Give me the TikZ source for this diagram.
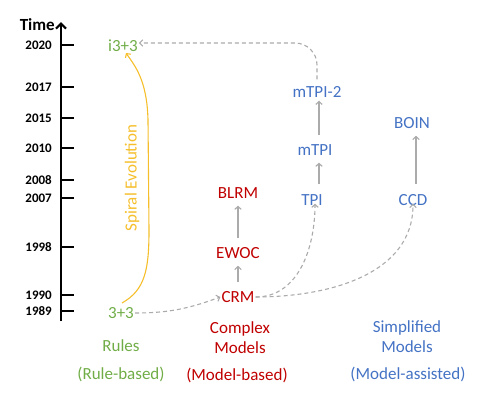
\documentclass[tikz,border=0pt]{standalone}
\usepackage{fontspec}
\setmainfont{Carlito}
\usetikzlibrary{arrows.meta}
\definecolor{cgreen}{HTML}{70AD47}
\definecolor{cred}{HTML}{C00000}
\definecolor{cblue}{HTML}{4472C4}
\definecolor{cgold}{HTML}{F5BE2A}
\definecolor{cgray}{HTML}{ABABAB}
\begin{document}
\begin{tikzpicture}[x=1pt,y=-1pt,
  lab/.style={font=\fontsize{17}{20}\selectfont, inner sep=1pt, align=center},
  year/.style={font=\fontsize{13}{15}\selectfont\bfseries, anchor=east, inner sep=0pt},
  tip/.style={-{Straight Barb[length=3pt,width=6.5pt]}},
  solidarr/.style={draw=cgray, line width=1.1pt, tip, shorten <=8pt, shorten >=6pt},
  dasharr/.style={draw=cgray, line width=1.1pt, tip, dash pattern=on 4pt off 3pt},
  ticks/.style={line width=1.8pt}]
\useasboundingbox (0,0) rectangle (504,407);
% axis
\coordinate (axbot) at (61,321);
\coordinate (axtop) at (61,22);
\draw[line width=2.2pt, -{Straight Barb[length=5pt,width=10pt]}] (axbot) -- (axtop);
\node[font=\fontsize{17}{20}\selectfont\bfseries, anchor=east, inner sep=0pt] (time) at (55,25) {Time};
\foreach \y/\t in {45/2020,87/2017,118/2015,148/2010,180/2008,198/2007,247/1998,295/1990,311/1989} {
  \coordinate (tk\t) at (61,\y);
  \draw[ticks] (tk\t) -- ++(13,0);
  \node[year] (yr\t) at (52,\y) {\t};
}
% rule-based
\node[lab, text=cgreen] (i33) at (123,46) {i3+3};
\node[lab, text=cgreen] (t33) at (121,313) {3+3};
\node[lab, text=cgreen] (rules) at (121,346) {Rules};
\node[lab, text=cgreen] (rulesb) at (121,374) {(Rule-based)};
\node[lab, text=cgold, rotate=90] (spiral) at (132,178) {Spiral Evolution};
\coordinate (ys) at (122,303);
\coordinate (ye) at (126,53);
\draw[cgold, line width=1.1pt, tip] (ys) .. controls (145,290) and (149,270) .. (149,230)
  -- (148,120) .. controls (147,80) and (135,66) .. (ye);
% model-based
\node[lab, text=cred] (crm) at (238,297) {CRM};
\node[lab, text=cred] (ewoc) at (238,253) {EWOC};
\node[lab, text=cred] (blrm) at (238,193) {BLRM};
\node[lab, text=cred] (complex) at (240,338) {Complex\\Models};
\node[lab, text=cred] (modelb) at (237,375) {(Model-based)};
% model-assisted
\node[lab, text=cblue] (tpi) at (312,200) {TPI};
\node[lab, text=cblue] (mtpi) at (315,150) {mTPI};
\node[lab, text=cblue] (mtpi2) at (317,92) {mTPI-2};
\node[lab, text=cblue] (ccd) at (413,200) {CCD};
\node[lab, text=cblue] (boin) at (412,123) {BOIN};
\node[lab, text=cblue] (simpl) at (407,337) {Simplified\\Models};
\node[lab, text=cblue] (modela) at (408,374) {(Model-assisted)};
% solid arrows
\draw[solidarr] (crm.north) -- (crm.north |- ewoc.south);
\draw[solidarr] (ewoc.north) -- (ewoc.north |- blrm.south);
\coordinate (tpix) at (319,0);
\draw[solidarr, shorten <=9pt] (tpix |- tpi.north) -- (tpix |- mtpi.south);
\draw[solidarr, shorten >=2pt] (tpix |- mtpi.north) -- (tpix |- mtpi2.south);
\coordinate (ccdx) at (416,0);
\draw[solidarr, shorten <=9pt] (ccdx |- ccd.north) -- (ccdx |- boin.south);
% dashed arrows
\draw[dasharr] (t33.east) to[out=0, in=200] (crm.west);
\draw[dasharr, rounded corners=22pt, shorten <=6pt] (mtpi2.north) |- ([yshift=3pt]i33.east);
\draw[dasharr] (crm.east) to[out=0, in=-90] ([xshift=3pt,yshift=3pt]tpi.south);
\draw[dasharr] (crm.east) to[out=0, in=-90] ([yshift=3pt]ccd.south);
\end{tikzpicture}
\end{document}
